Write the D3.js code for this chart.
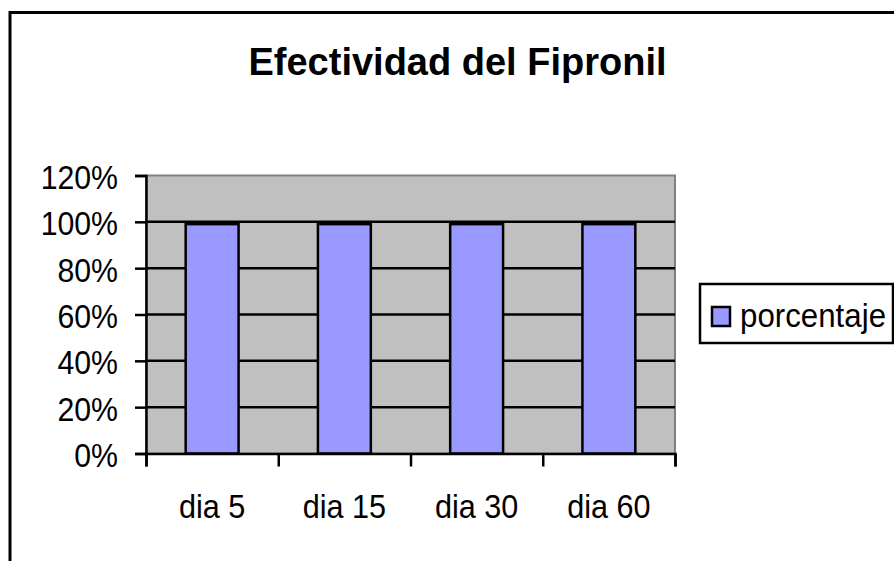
<!DOCTYPE html>
<html>
<head>
<meta charset="utf-8">
<script src="https://cdn.jsdelivr.net/npm/d3@7"></script>
<style>
  body { margin: 0; background: #fff; }
  svg { display: block; font-family: "Liberation Sans", Arial, sans-serif; }
</style>
</head>
<body>
<svg></svg>
<script>
// data
var categories = ["dia 5", "dia 15", "dia 30", "dia 60"];
var porcentaje = [0.99, 0.99, 0.99, 0.99];
var yTicks = [0, 0.2, 0.4, 0.6, 0.8, 1.0, 1.2];
var seriesName = "porcentaje";
var title = "Efectividad del Fipronil";

var svgWidth = 894, svgHeight = 561;
var plot = {left: 146, right: 675, top: 175.5, bottom: 453.5};

var svg = d3.select("svg")
  .attr("width", svgWidth)
  .attr("height", svgHeight);

// outer chart border (runs off the picture on right and bottom)
svg.append("rect")
  .attr("x", 10).attr("y", 12.5)
  .attr("width", 1000).attr("height", 700)
  .attr("fill", "#fff")
  .attr("stroke", "#000")
  .attr("stroke-width", 3);

svg.append("text")
  .attr("x", 457.5).attr("y", 75)
  .attr("text-anchor", "middle")
  .attr("font-size", 38)
  .attr("font-weight", "bold")
  .text(title);

var x = d3.scaleBand()
  .domain(categories)
  .range([plot.left, plot.right])
  .paddingInner(0.6)
  .paddingOuter(0.3);

var y = d3.scaleLinear()
  .domain([0, 1.2])
  .range([plot.bottom, plot.top]);

// plot area
svg.append("rect")
  .attr("x", plot.left).attr("y", plot.top)
  .attr("width", plot.right - plot.left)
  .attr("height", plot.bottom - plot.top)
  .attr("fill", "#c0c0c0")
  .attr("stroke", "#808080")
  .attr("stroke-width", 2);

// gridlines
svg.append("g")
  .selectAll("line")
  .data(yTicks.filter(function(d) { return d > 0 && d < 1.2; }))
  .enter()
  .append("line")
  .attr("x1", plot.left).attr("x2", plot.right)
  .attr("y1", function(d) { return y(d); })
  .attr("y2", function(d) { return y(d); })
  .attr("stroke", "#000")
  .attr("stroke-width", 2.5);

// bars
svg.append("g")
  .selectAll("rect")
  .data(porcentaje)
  .enter()
  .append("rect")
  .attr("x", function(d, i) { return x(categories[i]); })
  .attr("y", function(d) { return y(d); })
  .attr("width", x.bandwidth())
  .attr("height", function(d) { return y(0) - y(d); })
  .attr("fill", "#9999ff")
  .attr("stroke", "#000")
  .attr("stroke-width", 2.5);

// y axis
var yAxis = svg.append("g")
  .attr("transform", "translate(" + plot.left + ",0)")
  .call(d3.axisLeft(y)
    .tickValues(yTicks)
    .tickFormat(d3.format(".0%"))
    .tickSize(11)
    .tickPadding(17));

yAxis.select(".domain").attr("stroke", "#000").attr("stroke-width", 2.5);
yAxis.selectAll(".tick line").attr("stroke", "#000").attr("stroke-width", 2.5);
yAxis.selectAll(".tick text")
  .attr("font-size", 34)
  .attr("font-family", "Liberation Sans, Arial, sans-serif")
  .attr("fill", "#000")
  .attr("dy", "0.38em")
  .style("transform-box", "fill-box")
  .style("transform-origin", "right center")
  .style("transform", "scaleX(0.89)");

// x axis: tick marks at category boundaries
var bounds = d3.scaleLinear().domain([0, categories.length]).range([plot.left, plot.right]);
var xTickAxis = svg.append("g")
  .attr("transform", "translate(0," + plot.bottom + ")")
  .call(d3.axisBottom(bounds)
    .tickValues(d3.range(categories.length + 1))
    .tickFormat("")
    .tickSize(13));
xTickAxis.select(".domain").attr("stroke", "#000").attr("stroke-width", 2.5);
xTickAxis.selectAll(".tick line").attr("stroke", "#000").attr("stroke-width", 2.5);

// x axis: labels centred in each category
var xAxis = svg.append("g")
  .attr("transform", "translate(0," + plot.bottom + ")")
  .call(d3.axisBottom(x).tickSize(0).tickPadding(0));
xAxis.select(".domain").remove();
xAxis.selectAll(".tick text")
  .attr("y", 65)
  .attr("dy", 0)
  .attr("font-size", 34)
  .attr("font-family", "Liberation Sans, Arial, sans-serif")
  .attr("fill", "#000")
  .style("transform-box", "fill-box")
  .style("transform-origin", "center")
  .style("transform", "scaleX(0.9)");

// legend
var legend = svg.append("g");
legend.append("rect")
  .attr("x", 700).attr("y", 284)
  .attr("width", 193).attr("height", 59)
  .attr("fill", "#fff")
  .attr("stroke", "#000")
  .attr("stroke-width", 2.5);
legend.append("rect")
  .attr("x", 712).attr("y", 307)
  .attr("width", 18).attr("height", 19)
  .attr("fill", "#9999ff")
  .attr("stroke", "#000")
  .attr("stroke-width", 2.5);
legend.append("text")
  .attr("x", 740).attr("y", 327)
  .attr("font-size", 34)
  .style("transform-box", "fill-box")
  .style("transform-origin", "left center")
  .style("transform", "scaleX(0.92)")
  .text(seriesName);
</script>
</body>
</html>
